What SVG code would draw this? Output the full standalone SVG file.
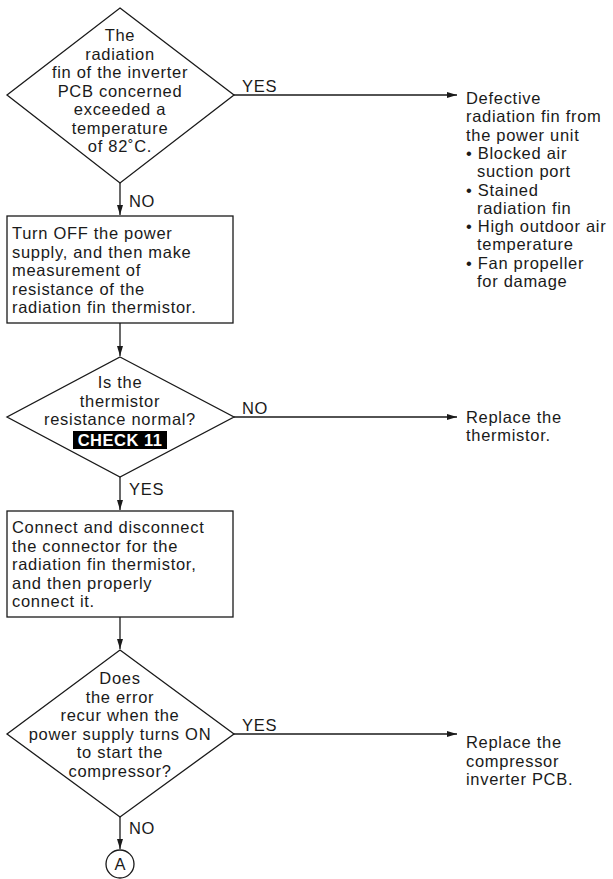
<svg xmlns="http://www.w3.org/2000/svg" width="613" height="879" viewBox="0 0 613 879">
<style>
text{font-family:"Liberation Sans",Arial,sans-serif;font-size:16.5px;letter-spacing:0.7px;fill:#1a1a1a}
.c{text-anchor:middle}
.shape{fill:#fff;stroke:#1a1a1a;stroke-width:1.3}
.ln{fill:none;stroke:#1a1a1a;stroke-width:1.3}
.chk{font-weight:bold;fill:#fff;letter-spacing:0.5px}
</style>
<defs>
<marker id="ah" viewBox="0 0 10 6" refX="10" refY="3" markerWidth="10" markerHeight="6" markerUnits="userSpaceOnUse" orient="auto">
<path d="M0,0 L10,3 L0,6 z" fill="#1a1a1a"/>
</marker>
</defs>
<rect width="613" height="879" fill="#fff"/>
<g id="connectors">
<line class="ln" x1="234" y1="95" x2="457" y2="95" marker-end="url(#ah)"/>
<line class="ln" x1="120" y1="183" x2="120" y2="215" marker-end="url(#ah)"/>
<line class="ln" x1="120" y1="323" x2="120" y2="356" marker-end="url(#ah)"/>
<line class="ln" x1="234" y1="417" x2="457" y2="417" marker-end="url(#ah)"/>
<line class="ln" x1="120" y1="477" x2="120" y2="510" marker-end="url(#ah)"/>
<line class="ln" x1="120" y1="617" x2="120" y2="649" marker-end="url(#ah)"/>
<line class="ln" x1="234" y1="734" x2="457" y2="734" marker-end="url(#ah)"/>
<line class="ln" x1="120" y1="817" x2="120" y2="849" marker-end="url(#ah)"/>
<text x="242" y="92">YES</text>
<text x="129" y="207">NO</text>
<text x="242" y="414">NO</text>
<text x="129" y="495">YES</text>
<text x="242" y="731">YES</text>
<text x="129" y="834">NO</text>
</g>
<g id="d1">
<polygon class="shape" points="120,8 234,95 120,183 7,95"/>
<text class="c" x="120" y="41">The</text>
<text class="c" x="120" y="59.5">radiation</text>
<text class="c" x="120" y="78">fin of the inverter</text>
<text class="c" x="120" y="96.5">PCB concerned</text>
<text class="c" x="120" y="115">exceeded a</text>
<text class="c" x="120" y="133.5">temperature</text>
<text class="c" x="120" y="152">of 82˚C.</text>
</g>
<g id="r1">
<text x="466" y="104">Defective</text>
<text x="466" y="122.3">radiation fin from</text>
<text x="466" y="140.6">the power unit</text>
<text x="466" y="158.9">• Blocked air</text>
<text x="477" y="177.2">suction port</text>
<text x="466" y="195.5">• Stained</text>
<text x="477" y="213.8">radiation fin</text>
<text x="466" y="232.1">• High outdoor air</text>
<text x="477" y="250.4">temperature</text>
<text x="466" y="268.7">• Fan propeller</text>
<text x="477" y="287">for damage</text>
</g>
<g id="b1">
<rect class="shape" x="7" y="216" width="226" height="107"/>
<text x="12" y="239">Turn OFF the power</text>
<text x="12" y="257.5">supply, and then make</text>
<text x="12" y="276">measurement of</text>
<text x="12" y="294.5">resistance of the</text>
<text x="12" y="313">radiation fin thermistor.</text>
</g>
<g id="d2">
<polygon class="shape" points="120,357 234,417 120,477 7,417"/>
<text class="c" x="120" y="388">Is the</text>
<text class="c" x="120" y="406.5">thermistor</text>
<text class="c" x="120" y="425">resistance normal?</text>
<rect x="73" y="431" width="94" height="18" fill="#000"/>
<text class="c chk" x="120" y="446">CHECK 11</text>
</g>
<g id="r2">
<text x="466" y="423">Replace the</text>
<text x="466" y="441">thermistor.</text>
</g>
<g id="b2">
<rect class="shape" x="7" y="511" width="226" height="106"/>
<text x="12" y="533">Connect and disconnect</text>
<text x="12" y="551.5">the connector for the</text>
<text x="12" y="570">radiation fin thermistor,</text>
<text x="12" y="588.5">and then properly</text>
<text x="12" y="607">connect it.</text>
</g>
<g id="d3">
<polygon class="shape" points="120,650 234,734 120,817 7,734"/>
<text class="c" x="120" y="684">Does</text>
<text class="c" x="120" y="702.5">the error</text>
<text class="c" x="120" y="721">recur when the</text>
<text class="c" x="120" y="739.5">power supply turns ON</text>
<text class="c" x="120" y="758">to start the</text>
<text class="c" x="120" y="776.5">compressor?</text>
</g>
<g id="r3">
<text x="466" y="748">Replace the</text>
<text x="466" y="766.5">compressor</text>
<text x="466" y="785">inverter PCB.</text>
</g>
<g id="a">
<circle class="shape" cx="120" cy="864" r="14"/>
<text class="c" x="120.4" y="870">A</text>
</g>
</svg>
